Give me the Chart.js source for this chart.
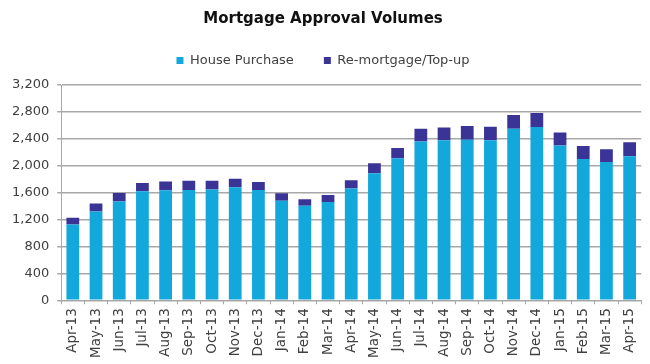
<!DOCTYPE html>
<html>
<head>
<meta charset="utf-8">
<script src="https://cdn.jsdelivr.net/npm/chart.js@4"></script>
<style>
    body { margin: 0; background: #fff; }
</style>
</head>
<body>
<canvas id="approvalChart" width="650" height="364"></canvas>
<script>
// month labels along the x axis
const months = [
    'Apr-13', 'May-13', 'Jun-13', 'Jul-13', 'Aug-13', 'Sep-13', 'Oct-13', 'Nov-13', 'Dec-13',
    'Jan-14', 'Feb-14', 'Mar-14', 'Apr-14', 'May-14', 'Jun-14', 'Jul-14', 'Aug-14', 'Sep-14',
    'Oct-14', 'Nov-14', 'Dec-14', 'Jan-15', 'Feb-15', 'Mar-15', 'Apr-15'
];

// values (approximate)
const housePurchase = [
    1125, 1320, 1470, 1620, 1635, 1640, 1645, 1680, 1640,
    1480, 1405, 1460, 1660, 1890, 2110, 2360, 2380, 2385,
    2380, 2550, 2575, 2300, 2100, 2055, 2140
];
const remortgage = [
    100, 120, 125, 125, 130, 135, 130, 125, 120,
    110, 95, 105, 125, 145, 155, 190, 190, 205,
    200, 205, 210, 195, 195, 190, 210
];

const yTicks = [0, 400, 800, 1200, 1600, 2000, 2400, 2800, 3200];

const fontFamily = '"DejaVu Sans", Verdana, sans-serif';
const textColor = '#404040';
const gridColor = '#a8a8a8';

// a bit more room between the legend and the plot
const legendGap = {
    id: 'legendGap',
    beforeLayout(chart) {
        const lg = chart.legend;
        if (lg && !lg._gapPatched) {
            const origFit = lg.fit;
            lg.fit = function() {
                origFit.call(this);
                this.height += 8;
            };
            lg._gapPatched = true;
        }
    }
};

const ctx = document.getElementById('approvalChart').getContext('2d');

new Chart(ctx, {
    type: 'bar',
    data: {
        labels: months,
        datasets: [
            {
                label: 'House Purchase',
                data: housePurchase,
                backgroundColor: '#12a8dc',
                barPercentage: 0.55,
                categoryPercentage: 1.0
            },
            {
                label: 'Re-mortgage/Top-up',
                data: remortgage,
                backgroundColor: '#3b3497',
                barPercentage: 0.55,
                categoryPercentage: 1.0
            }
        ]
    },
    plugins: [legendGap],
    options: {
        responsive: false,
        animation: false,
        layout: {
            padding: { left: 4, right: 8, bottom: 2 }
        },
        plugins: {
            title: {
                display: true,
                text: 'Mortgage Approval Volumes',
                color: '#111',
                font: { family: fontFamily, size: 15, weight: 'bold' },
                padding: { top: 10, bottom: -4 }
            },
            legend: {
                position: 'top',
                labels: {
                    color: textColor,
                    font: { family: fontFamily, size: 13 },
                    boxWidth: 7,
                    boxHeight: 7,
                    padding: 30
                }
            },
            tooltip: { enabled: false }
        },
        scales: {
            x: {
                stacked: true,
                grid: {
                    drawOnChartArea: false,
                    drawTicks: true,
                    tickLength: 4,
                    color: gridColor
                },
                border: { color: gridColor },
                ticks: {
                    color: textColor,
                    font: { family: fontFamily, size: 13.5 },
                    minRotation: 90,
                    maxRotation: 90,
                    autoSkip: false,
                    padding: 4
                }
            },
            y: {
                stacked: true,
                min: 0,
                max: 3200,
                afterBuildTicks: function(axis) {
                    axis.ticks = yTicks.map(v => ({ value: v }));
                },
                grid: {
                    color: gridColor,
                    lineWidth: 1.5,
                    tickLength: 4
                },
                border: { color: gridColor },
                ticks: {
                    color: textColor,
                    font: { family: fontFamily, size: 13 },
                    padding: 8
                }
            }
        }
    }
});
</script>
</body>
</html>
